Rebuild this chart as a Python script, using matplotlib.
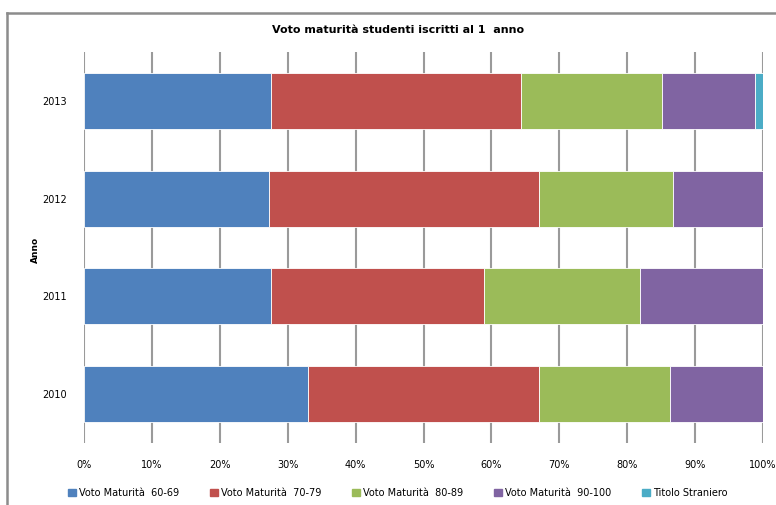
import matplotlib.pyplot as plt
import matplotlib.patches as mpatches
import numpy as np

years = ['2010', '2011', '2012', '2013']
series_names = ['Voto Maturità  60-69', 'Voto Maturità  70-79', 'Voto Maturità  80-89',
                'Voto Maturità  90-100', 'Titolo Straniero']
voto_60_69 = [33.0, 27.6, 27.3, 27.6]
voto_70_79 = [34.0, 31.3, 39.7, 36.7]
voto_80_89 = [19.3, 23.0, 19.8, 20.8]
voto_90_100 = [13.7, 18.1, 13.2, 13.7]
titolo_straniero = [0.0, 0.0, 0.0, 1.2]
colors = ['#4F81BD', '#C0504D', '#9BBB59', '#8064A2', '#4BACC6']

plt.rcParams['font.family'] = ['DejaVu Sans']

W, H = 776, 505
fig = plt.figure(figsize=(W / 100, H / 100), dpi=100)
ax = fig.add_axes([84 / W, 1 - 443 / H, (763 - 84) / W, (443 - 52) / H])

y = np.arange(len(years))
left = np.zeros(len(years))
for vals, col in zip([voto_60_69, voto_70_79, voto_80_89, voto_90_100, titolo_straniero], colors):
    ax.barh(y, vals, left=left, height=0.571, color=col, edgecolor='white', linewidth=0.6, zorder=3)
    left += np.array(vals)

ax.set_xlim(0, 100)
ax.set_ylim(-0.5, len(years) - 0.5)
ax.set_xticks(np.arange(0, 101, 10))
ax.set_xticklabels([f'{v}%' for v in range(0, 101, 10)], fontsize=7)
ax.set_yticks(y)
ax.set_yticklabels(years, fontsize=7)
ax.tick_params(length=0, pad=12)
ax.tick_params(axis='y', pad=12)
ax.grid(axis='x', color='#9a9a9a', linewidth=1.5, zorder=1)
for s in ax.spines.values():
    s.set_visible(False)

fig.text(398 / W, 1 - 30 / H, 'Voto maturità studenti iscritti al 1  anno', fontsize=8,
         fontweight='bold', ha='center', va='center')
fig.text(35 / W, 1 - 250 / H, 'Anno', fontsize=6.5, fontweight='bold', rotation=90,
         ha='center', va='center')

# frame of the chart area, cut off on the right and bottom
fig.add_artist(plt.Line2D([7 / W, 7 / W], [0, 1 - 13 / H], color='#8c8c8c', linewidth=1.8))
fig.add_artist(plt.Line2D([7 / W, 1], [1 - 13 / H, 1 - 13 / H], color='#8c8c8c', linewidth=1.8))

handles = [mpatches.Patch(color=c, label=n) for c, n in zip(colors, series_names)]
fig.legend(handles=handles, loc='center', bbox_to_anchor=(398 / W, 1 - 493 / H), ncol=5,
           frameon=False, fontsize=7, handlelength=0.8, handleheight=0.8, handletextpad=0.3,
           columnspacing=3.2)

fig.savefig('out.png', dpi=100)
